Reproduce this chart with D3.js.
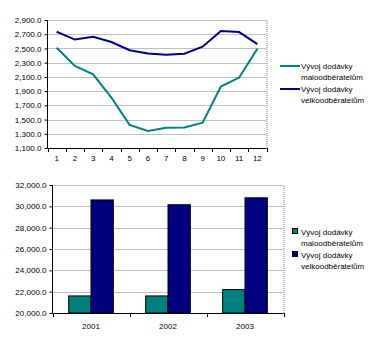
<!DOCTYPE html>
<html><head><meta charset="utf-8">
<script src="https://cdn.jsdelivr.net/npm/d3@7"></script>
<style>body{margin:0;background:#fff}svg{display:block}text{font-family:"Liberation Sans",Arial,sans-serif;font-size:8px;fill:#000}</style>
</head><body>
<script>
const months = ["1","2","3","4","5","6","7","8","9","10","11","12"];
const smallCustomers = [2510,2255,2135,1810,1425,1340,1385,1390,1455,1965,2090,2495];
const largeCustomers = [2735,2625,2665,2590,2475,2430,2410,2425,2525,2745,2730,2560];
const lineTicks = [1100,1300,1500,1700,1900,2100,2300,2500,2700,2900];
const years = ["2001","2002","2003"];
const smallYear = [21600,21600,22200];
const largeYear = [30600,30150,30800];
const barTicks = [20000,22000,24000,26000,28000,30000,32000];
const seriesNames = [["Vývoj dodávky","maloodběratelům"],["Vývoj dodávky","velkoodběratelům"]];
const colors = ["#008080","#000080"];

const svg = d3.select("body").append("svg").attr("width",375).attr("height",346);
const fmt = d3.format(",.1f");

// ---- Line chart ----
{
  const L=47.5,R=266.5,T=20,B=148;
  const x = d3.scaleBand().domain(months).range([L,R]);
  const y = d3.scaleLinear().domain([1100,2900]).range([B,T]);
  const g = svg.append("g");
  g.selectAll("line.grid").data(lineTicks.slice(1,-1)).join("line")
    .attr("x1",L).attr("x2",R).attr("y1",d=>Math.round(y(d))+0.5).attr("y2",d=>Math.round(y(d))+0.5)
    .attr("stroke","#c0c0c0");
  g.append("path").attr("d",`M${L},${T+0.5}H${R+0.5}V${B}`).attr("fill","none")
    .attr("stroke","#808080").attr("stroke-dasharray","1,1");
  const ya = d3.axisLeft(y).tickValues(lineTicks).tickFormat(fmt).tickSize(3).tickPadding(3);
  g.append("g").attr("transform",`translate(${L},0)`).call(ya)
    .call(s=>{s.select(".domain").remove();s.selectAll("text").style("font-size","8px").attr("font-family",null);});
  g.append("line").attr("x1",L).attr("x2",L).attr("y1",T).attr("y2",B).attr("stroke","#000");
  const xa = d3.axisBottom(x).tickSize(0).tickPadding(7);
  const xg = g.append("g").attr("transform",`translate(0,${B})`).call(xa);
  xg.select(".domain").remove();
  xg.selectAll("text").attr("font-family",null).style("font-size","8px");
  g.append("line").attr("x1",L).attr("x2",R).attr("y1",B+0.5).attr("y2",B+0.5).attr("stroke","#000");
  g.selectAll("line.xt").data(d3.range(months.length+1)).join("line")
    .attr("x1",i=>Math.round(L+i*x.step())+0.5).attr("x2",i=>Math.round(L+i*x.step())+0.5)
    .attr("y1",B).attr("y2",B+4).attr("stroke","#000");
  const line = d3.line().x((d,i)=>x(months[i])+x.bandwidth()/2).y(d=>y(d));
  [smallCustomers,largeCustomers].forEach((s,k)=>{
    g.append("path").datum(s).attr("d",line).attr("fill","none").attr("stroke",colors[k]).attr("stroke-width",2);
  });
  // legend
  const lg = svg.append("g");
  seriesNames.forEach((n,k)=>{
    const yy = 66 + k*23;
    lg.append("line").attr("x1",280).attr("x2",300).attr("y1",yy).attr("y2",yy).attr("stroke",colors[k]).attr("stroke-width",2);
    lg.append("text").attr("x",301).attr("y",yy+3).text(n[0]);
    lg.append("text").attr("x",301).attr("y",yy+14).text(n[1]);
  });
}

// ---- Bar chart ----
{
  const L=52.5,R=283.5,T=185,B=313;
  const x = d3.scaleBand().domain(years).range([L,R]).paddingInner(0.42).paddingOuter(0.21);
  const x1 = d3.scaleBand().domain([0,1]).range([0,x.bandwidth()]);
  const y = d3.scaleLinear().domain([20000,32000]).range([B,T]);
  const g = svg.append("g");
  g.selectAll("line.grid").data(barTicks.slice(1,-1)).join("line")
    .attr("x1",L).attr("x2",R).attr("y1",d=>Math.round(y(d))+0.5).attr("y2",d=>Math.round(y(d))+0.5)
    .attr("stroke","#c0c0c0");
  g.append("path").attr("d",`M${L},${T+0.5}H${R+0.5}V${B}`).attr("fill","none")
    .attr("stroke","#808080").attr("stroke-dasharray","1,1");
  const ya = d3.axisLeft(y).tickValues(barTicks).tickFormat(fmt).tickSize(3).tickPadding(3);
  g.append("g").attr("transform",`translate(${L},0)`).call(ya)
    .call(s=>{s.select(".domain").remove();s.selectAll("text").style("font-size","8px").attr("font-family",null);});
  const data=[smallYear,largeYear];
  years.forEach((yr,i)=>{
    [0,1].forEach(k=>{
      g.append("rect").attr("x",x(yr)+x1(k)).attr("width",x1.bandwidth())
        .attr("y",y(data[k][i])).attr("height",B-y(data[k][i]))
        .attr("fill",colors[k]).attr("stroke","#000").attr("stroke-width",1);
    });
  });
  g.append("line").attr("x1",L).attr("x2",L).attr("y1",T).attr("y2",B).attr("stroke","#000");
  const xa = d3.axisBottom(x).tickSize(0).tickPadding(10);
  const xg = g.append("g").attr("transform",`translate(0,${B})`).call(xa);
  xg.select(".domain").remove();
  xg.selectAll("text").attr("font-family",null).style("font-size","8px");
  g.append("line").attr("x1",L).attr("x2",R).attr("y1",B+0.5).attr("y2",B+0.5).attr("stroke","#000");
  const step=(R-L)/years.length;
  g.selectAll("line.xt").data(d3.range(years.length+1)).join("line")
    .attr("x1",i=>Math.round(L+i*step)+0.5).attr("x2",i=>Math.round(L+i*step)+0.5)
    .attr("y1",B).attr("y2",B+4).attr("stroke","#000");
  const lg = svg.append("g");
  seriesNames.forEach((n,k)=>{
    const yy = 232 + k*23;
    lg.append("rect").attr("x",292.5).attr("y",yy-3.5).attr("width",5).attr("height",5).attr("fill",colors[k]).attr("stroke","#000");
    lg.append("text").attr("x",301).attr("y",yy+3).text(n[0]);
    lg.append("text").attr("x",301).attr("y",yy+14).text(n[1]);
  });
}
</script>
</body></html>
